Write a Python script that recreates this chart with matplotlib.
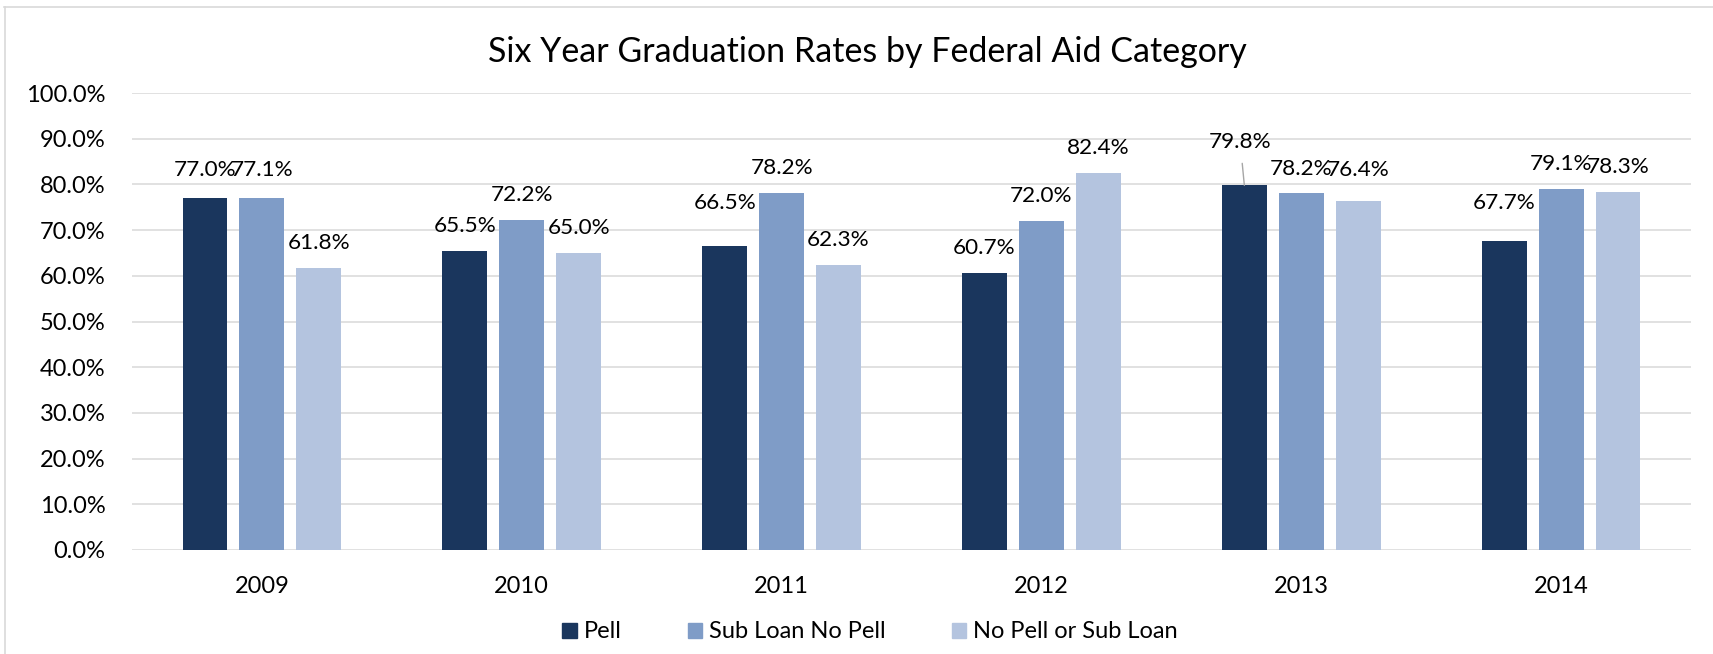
import matplotlib.pyplot as plt
from matplotlib.patches import Patch
from matplotlib.lines import Line2D
import numpy as np

# data
years = ['2009', '2010', '2011', '2012', '2013', '2014']
series_names = ['Pell', 'Sub Loan No Pell', 'No Pell or Sub Loan']
pell = [77.0, 65.5, 66.5, 60.7, 79.8, 67.7]
sub_loan = [77.1, 72.2, 78.2, 72.0, 78.2, 79.1]
no_pell = [61.8, 65.0, 62.3, 82.4, 76.4, 78.3]
yticks = [0, 10, 20, 30, 40, 50, 60, 70, 80, 90, 100]

colors = ['#1A365D', '#7F9CC7', '#B4C4DF']

# label offsets above bar top (points); a few labels were moved by hand
default_off = 18
label_off = {(0, 0): 20, (1, 0): 20, (0, 2): 31, (0, 4): 31,
             (1, 4): 17, (2, 4): 22, (0, 5): 27}

plt.rcParams['font.family'] = ['Lato', 'DejaVu Sans']

fig = plt.figure(figsize=(17.13, 6.54), dpi=100)
ax = fig.add_axes([132 / 1713, 1 - 550 / 654, (1691 - 132) / 1713, (550 - 93) / 654])

x = np.arange(len(years))
width = 0.173
step = 0.219
all_series = [pell, sub_loan, no_pell]
for i, (vals, name, c) in enumerate(zip(all_series, series_names, colors)):
    xs = x + (i - 1) * step
    ax.bar(xs, vals, width, color=c, zorder=3, label=name)
    for j, (xv, v) in enumerate(zip(xs, vals)):
        off = label_off.get((i, j), default_off)
        if (i, j) == (0, 4):
            ax.annotate(f'{v:.1f}%', xy=(xv, v), xytext=(-3, off),
                        textcoords='offset points', ha='center', va='center',
                        fontsize=16.2,
                        arrowprops=dict(arrowstyle='-', color='#A6A6A6', lw=1,
                                        shrinkA=6, shrinkB=0))
        else:
            ax.annotate(f'{v:.1f}%', xy=(xv, v), xytext=(0, off),
                        textcoords='offset points', ha='center', va='center',
                        fontsize=16.2)

ax.set_ylim(0, 100)
ax.set_xlim(-0.5, len(years) - 0.5)
ax.set_yticks(yticks)
ax.set_yticklabels([f'{t:.1f}%' for t in yticks])
ax.set_xticks(x)
ax.set_xticklabels(years)
ax.tick_params(axis='y', length=0, pad=19, labelsize=17)
ax.tick_params(axis='x', length=0, pad=19, labelsize=17)
ax.grid(axis='y', color='#D9D9D9', lw=1.1, zorder=0)
for s in ax.spines.values():
    s.set_visible(False)

fig.text(867 / 1713, 1 - 52 / 654, 'Six Year Graduation Rates by Federal Aid Category',
         ha='center', va='center', fontsize=24.5)

handles = [Patch(color=c) for c in colors]
fig.legend(handles, series_names, loc='center', bbox_to_anchor=(870 / 1713, 1 - 632 / 654),
           ncol=3, frameon=False, handlelength=0.6, handleheight=0.6,
           handletextpad=0.3, columnspacing=2.8, fontsize=17)

# chart area border (top and left edges visible)
fig.add_artist(Line2D([4.5 / 1713, 4.5 / 1713], [0, 1 - 7 / 654], color='#D9D9D9', lw=1.2))
fig.add_artist(Line2D([4 / 1713, 1], [1 - 7 / 654, 1 - 7 / 654], color='#D9D9D9', lw=1.2))

fig.savefig('out.png', dpi=100)
plt.close()
